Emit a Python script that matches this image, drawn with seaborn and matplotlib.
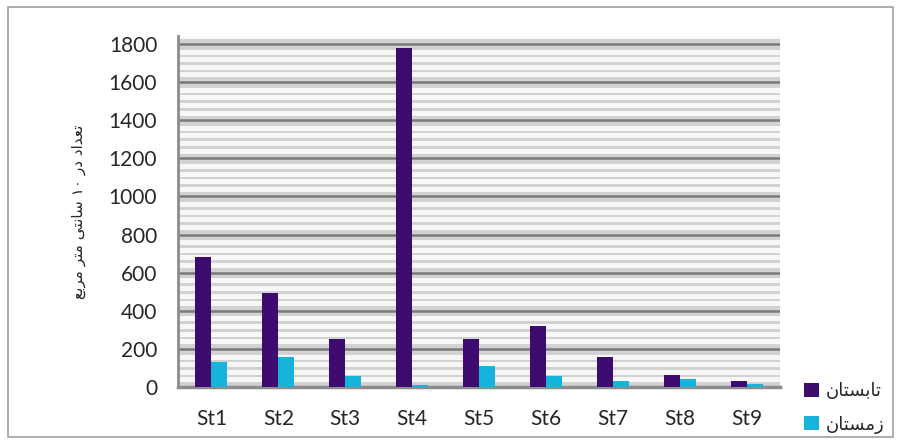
import re
import numpy as np
import pandas as pd
import matplotlib
matplotlib.use('Agg')
import matplotlib.pyplot as plt
from matplotlib.patches import Patch, Rectangle
from matplotlib.ticker import MultipleLocator
import seaborn as sns

stations = ['St1', 'St2', 'St3', 'St4', 'St5', 'St6', 'St7', 'St8', 'St9']
summer = [680, 495, 250, 1780, 250, 320, 160, 65, 30]
winter = [130, 160, 60, 10, 110, 60, 30, 40, 15]
season_names = ['تابستان', 'زمستان']
y_label = 'تعداد در ۱۰ سانتی متر مربع'
colors = ['#3e0c6e', '#14b4dc']

# matplotlib has no arabic shaping, so map letters to presentation forms
DUAL = {'ب': 0xFE8F, 'ت': 0xFE95, 'س': 0xFEB1, 'ع': 0xFEC9,
        'م': 0xFEE1, 'ن': 0xFEE5, 'ی': 0xFBFC}
RIGHT = {'ا': 0xFE8D, 'د': 0xFEA9, 'ر': 0xFEAD, 'ز': 0xFEAF}


def fa(text):
    out = []
    for i, ch in enumerate(text):
        prev = text[i - 1] if i > 0 else ''
        nxt = text[i + 1] if i < len(text) - 1 else ''
        if ch in DUAL or ch in RIGHT:
            base = DUAL.get(ch, RIGHT.get(ch))
            jp = prev in DUAL
            jn = ch in DUAL and (nxt in DUAL or nxt in RIGHT)
            if jp and jn:
                c = base + 3
            elif jp:
                c = base + 1
            elif jn:
                c = base + 2
            else:
                c = base
            out.append(chr(c))
        else:
            out.append(ch)
    s = ''.join(out)[::-1]
    return re.sub(r'[0-9\u06F0-\u06F9]+', lambda m: m.group(0)[::-1], s)


df = pd.DataFrame({
    'station': stations * 2,
    'value': summer + winter,
    'season': [season_names[0]] * len(stations) + [season_names[1]] * len(stations),
})

sns.set_style('white')
fig = plt.figure(figsize=(9.01, 4.42), dpi=100)
ax = fig.add_axes([178 / 901, 1 - 387 / 442, 602 / 901, 351 / 442])

ax.set_facecolor('#d2d2d2')
sns.barplot(data=df, x='station', y='value', hue='season', palette=colors,
            width=0.48, gap=0, saturation=1, ax=ax, legend=False,
            edgecolor='none', zorder=3)

ax.set_xlim(-0.5, 8.5)
ax.set_ylim(0, 1842)
ax.yaxis.set_minor_locator(MultipleLocator(40))
ax.set_yticks(np.arange(0, 1801, 200))
ax.grid(which='minor', axis='y', color='#f7f7f7', linewidth=3.6, zorder=0)
ax.grid(which='major', axis='y', color='#7a7a7a', linewidth=1.8, zorder=1)
ax.set_axisbelow(True)

for s in ['top', 'right']:
    ax.spines[s].set_visible(False)
ax.spines['left'].set_color('#8c8c8c')
ax.spines['left'].set_linewidth(2)
ax.spines['bottom'].set_color('#8c8c8c')
ax.spines['bottom'].set_linewidth(2.5)

ax.tick_params(axis='y', which='major', length=8, width=1.5, color='#8c8c8c',
               pad=7, labelsize=15)
ax.tick_params(axis='y', which='minor', length=0)
ax.tick_params(axis='x', length=0, pad=16, labelsize=15)
for lab in ax.get_xticklabels() + ax.get_yticklabels():
    lab.set_fontfamily('Lato')

ax.set_xlabel('')
ax.set_ylabel(fa(y_label), fontsize=11, family=['DejaVu Sans'], labelpad=16)

handles = [Patch(facecolor=c, edgecolor='none') for c in colors]
fig.legend(handles, [fa(n) for n in season_names], loc='upper left',
           bbox_to_anchor=(788 / 901, 1 - 366 / 442), frameon=False,
           prop={'family': 'DejaVu Sans', 'size': 13},
           handlelength=0.8, handleheight=0.8, handletextpad=0.4,
           labelspacing=0.85)

fig.patches.append(Rectangle((8 / 901, 1 - 437 / 442), 885 / 901, 430 / 442,
                             transform=fig.transFigure, fill=False,
                             edgecolor='#a0a0a0', linewidth=1.2))

fig.savefig('out.png', dpi=100)
